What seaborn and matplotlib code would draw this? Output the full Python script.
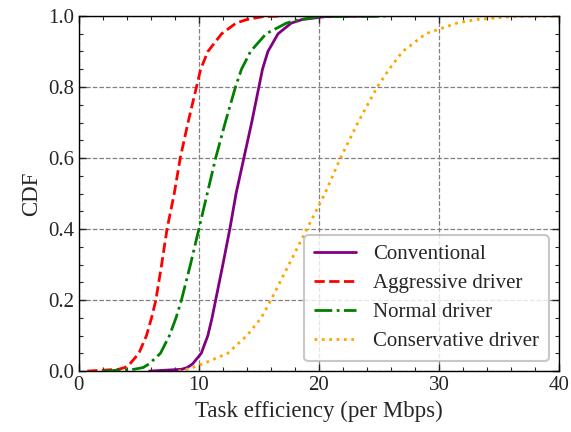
import numpy as np
import pandas as pd
import matplotlib
matplotlib.use('Agg')
import matplotlib.pyplot as plt
from matplotlib.ticker import MultipleLocator
import seaborn as sns

# CDF levels and the x values where each curve reaches them
cdf_levels = [0.0, 0.005, 0.01, 0.02, 0.05, 0.1, 0.15, 0.2, 0.3, 0.4, 0.5,
              0.6, 0.7, 0.8, 0.85, 0.9, 0.95, 0.98, 0.99, 0.998, 1.0]

conv_x = [5.9, 8.56, 9.03, 9.47, 10.2, 10.75, 11.1, 11.4, 12.0, 12.58, 13.1,
          13.75, 14.4, 15.0, 15.3, 15.75, 16.6, 17.7, 18.6, 20.5, 25.0]
aggr_x = [0.7, 3.3, 3.83, 4.25, 5.0, 5.64, 6.06, 6.42, 6.9, 7.35, 7.95,
          8.45, 9.1, 9.8, 10.15, 10.75, 11.9, 13.1, 14.0, 15.3, 17.0]
norm_x = [2.0, 4.6, 5.36, 5.85, 6.8, 7.55, 8.1, 8.55, 9.3, 10.0, 10.7,
          11.4, 12.2, 13.05, 13.55, 14.3, 15.6, 17.3, 18.4, 20.0, 26.0]
cons_x = [8.3, 9.0, 9.5, 10.3, 12.4, 14.0, 15.2, 16.0, 17.5, 19.0, 20.5,
          21.8, 23.25, 24.86, 25.85, 26.97, 28.9, 31.5, 33.1, 36.0, 40.0]

series = ['Conventional', 'Aggressive driver', 'Normal driver', 'Conservative driver']
colors = ['purple', 'red', 'green', 'orange']
styles = ['-', '--', '-.', ':']

df = pd.DataFrame({
    'x': conv_x + aggr_x + norm_x + cons_x,
    'cdf': cdf_levels * 4,
    'series': np.repeat(series, len(cdf_levels)),
})

sns.set_style('ticks')
plt.rcParams['font.family'] = ['Liberation Serif', 'DejaVu Serif']

fig, ax = plt.subplots(figsize=(5.71, 4.32), dpi=100)
fig.subplots_adjust(left=0.138, right=0.979, top=0.963, bottom=0.141)

for name, c, ls in zip(series, colors, styles):
    sub = df[df['series'] == name]
    sns.lineplot(data=sub, x='x', y='cdf', color=c, linestyle=ls, linewidth=2,
                 label=name, ax=ax, estimator=None, sort=False)

ax.set_xlim(0, 40)
ax.set_ylim(0, 1)
ax.xaxis.set_major_locator(MultipleLocator(10))
ax.xaxis.set_minor_locator(MultipleLocator(2))
ax.yaxis.set_major_locator(MultipleLocator(0.2))
ax.yaxis.set_minor_locator(MultipleLocator(0.05))
ax.tick_params(which='both', direction='in', top=True, right=True, labelsize=15)
ax.tick_params(which='major', length=5, width=1)
ax.tick_params(which='minor', length=3, width=0.8)
for s in ax.spines.values():
    s.set_linewidth(1)
    s.set_color('black')
ax.grid(True, which='major', linestyle='--', color='gray', linewidth=0.9)

ax.set_xlabel('Task efficiency (per Mbps)', fontsize=16.5)
ax.set_ylabel('CDF', fontsize=16.5)

leg = ax.legend(loc='lower right', fontsize=15, frameon=True, fancybox=True,
                borderpad=0.45, labelspacing=0.45, handlelength=2.0, handletextpad=0.85)
leg.get_frame().set_edgecolor('#bbbbbb')
leg.get_frame().set_linewidth(1.5)

fig.savefig('out.png', dpi=100)
